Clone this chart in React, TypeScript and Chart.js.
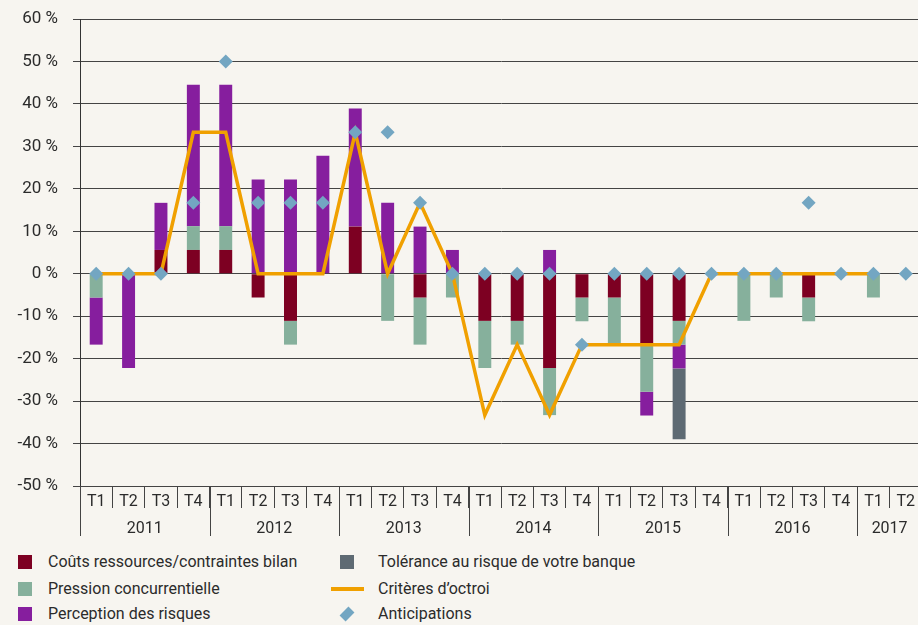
import React, { useEffect, useRef } from "react";
import { Chart, registerables } from "chart.js";

Chart.register(...registerables);

const quarters = [
  "T1", "T2", "T3", "T4",
  "T1", "T2", "T3", "T4",
  "T1", "T2", "T3", "T4",
  "T1", "T2", "T3", "T4",
  "T1", "T2", "T3", "T4",
  "T1", "T2", "T3", "T4",
  "T1", "T2",
];
const years = ["2011", "2012", "2013", "2014", "2015", "2016", "2017"];
const quartersPerYear = [4, 4, 4, 4, 4, 4, 2];

const couts = [
  0, 0, 5.6, 5.6,
  5.6, -5.6, -11.1, 0,
  11.1, 0, -5.6, 0,
  -11.1, -11.1, -22.2, -5.6,
  -5.6, -16.7, -11.1, 0,
  0, 0, -5.6, 0,
  0, 0,
];
const pression = [
  -5.6, 0, 0, 5.6,
  5.6, 0, -5.6, 0,
  0, -11.1, -11.1, -5.6,
  -11.1, -5.6, -11.1, -5.6,
  -11.1, -11.1, -5.6, 0,
  -11.1, -5.6, -5.6, 0,
  -5.6, 0,
];
const perception = [
  -11.1, -22.2, 11.1, 33.3,
  33.3, 22.2, 22.2, 27.8,
  27.8, 16.7, 11.1, 5.6,
  0, 0, 5.6, 0,
  0, -5.6, -5.6, 0,
  0, 0, 0, 0,
  0, 0,
];
const tolerance = [
  0, 0, 0, 0,
  0, 0, 0, 0,
  0, 0, 0, 0,
  0, 0, 0, 0,
  0, 0, -16.7, 0,
  0, 0, 0, 0,
  0, 0,
];
const criteres = [
  0, 0, 0, 33.3,
  33.3, 0, 0, 0,
  33.3, 0, 16.7, 0,
  -33.3, -16.7, -33.3, -16.7,
  -16.7, -16.7, -16.7, 0,
  0, 0, 0, 0,
  0, null,
];
const anticipations = [
  0, 0, 0, 16.7,
  50, 16.7, 16.7, 16.7,
  33.3, 33.3, 16.7, 0,
  0, 0, 0, -16.7,
  0, 0, 0, 0,
  0, 0, 16.7, 0,
  0, 0,
];

const C_RED = "#7d0022";
const C_GREEN = "#86b09c";
const C_PURPLE = "#861e9e";
const C_GREY = "#5e6a73";
const C_ORANGE = "#f0a000";
const C_DIAMOND = "#73a6c2";
const BG = "#f7f5f0";
const TEXT = "#2b2b2b";
const FONT = "Roboto";

const yearPlugin = {
  id: "yearLabels",
  afterDraw(chart: any) {
    const ctx = chart.ctx;
    const x = chart.scales.x;
    const area = chart.chartArea;
    const catW = x.getPixelForValue(1) - x.getPixelForValue(0);
    ctx.save();
    ctx.strokeStyle = "#444";
    ctx.lineWidth = 1;
    ctx.fillStyle = TEXT;
    ctx.font = `16px ${FONT}`;
    ctx.textAlign = "center";
    ctx.textBaseline = "middle";
    let idx = 0;
    years.forEach((yr, i) => {
      const n = quartersPerYear[i];
      const left = x.getPixelForValue(idx) - catW / 2;
      const right = x.getPixelForValue(idx + n - 1) + catW / 2;
      const lx = Math.round(left) + 0.5;
      ctx.beginPath();
      ctx.moveTo(lx, area.bottom);
      ctx.lineTo(lx, area.bottom + 50);
      ctx.stroke();
      ctx.fillText(yr, (left + right) / 2, area.bottom + 43);
      idx += n;
    });
    ctx.restore();
  },
};

function LegendItem(props: { x: number; tx: number; y: number; label: string; kind: string; color: string }) {
  const { x, tx, y, label, kind, color } = props;
  let marker: any;
  if (kind === "square") {
    marker = <div style={{ position: "absolute", left: x, top: y - 7, width: 14, height: 14, background: color }} />;
  } else if (kind === "line") {
    marker = <div style={{ position: "absolute", left: x - 9, top: y - 2, width: 33, height: 4, background: color }} />;
  } else {
    marker = (
      <div
        style={{
          position: "absolute",
          left: x + 2,
          top: y - 5,
          width: 10,
          height: 10,
          background: color,
          transform: "rotate(45deg) scale(0.85,1.25)",
        }}
      />
    );
  }
  return (
    <>
      {marker}
      <div
        style={{
          position: "absolute",
          left: tx,
          top: y - 10,
          height: 20,
          lineHeight: "20px",
          fontFamily: FONT,
          fontSize: 16,
          color: TEXT,
          whiteSpace: "nowrap",
        }}
      >
        {label}
      </div>
    </>
  );
}

export default function App() {
  const ref = useRef<HTMLCanvasElement>(null);

  useEffect(() => {
    document.body.style.margin = "0";
    document.body.style.background = BG;
    const canvas = ref.current;
    if (!canvas) return;
    const chart = new Chart(canvas, {
      type: "bar",
      data: {
        labels: quarters,
        datasets: [
          {
            type: "line",
            label: "Anticipations",
            data: anticipations,
            showLine: false,
            pointStyle: "rectRot",
            pointRadius: 7,
            pointBackgroundColor: C_DIAMOND,
            pointBorderWidth: 0,
            backgroundColor: C_DIAMOND,
            borderColor: C_DIAMOND,
            order: 0,
            stack: "a",
          } as any,
          {
            type: "line",
            label: "Critères d’octroi",
            data: criteres,
            borderColor: C_ORANGE,
            borderWidth: 3.5,
            pointRadius: 0,
            tension: 0,
            fill: false,
            order: 1,
            stack: "l",
          } as any,
          { label: "Coûts ressources/contraintes bilan", data: couts, backgroundColor: C_RED, order: 2, stack: "b" },
          { label: "Pression concurrentielle", data: pression, backgroundColor: C_GREEN, order: 2, stack: "b" },
          { label: "Perception des risques", data: perception, backgroundColor: C_PURPLE, order: 2, stack: "b" },
          { label: "Tolérance au risque de votre banque", data: tolerance, backgroundColor: C_GREY, order: 2, stack: "b" },
        ],
      },
      options: {
        responsive: false,
        animation: false,
        datasets: { bar: { barPercentage: 0.4, categoryPercentage: 1 } } as any,
        layout: { padding: { top: 19, left: 0, right: 0, bottom: 0 } },
        plugins: { legend: { display: false }, tooltip: { enabled: false } },
        scales: {
          x: {
            stacked: true,
            offset: true,
            grid: { display: true, offset: true, drawOnChartArea: false, drawTicks: true, tickLength: 22, color: "#444", lineWidth: 1 },
            border: { display: false },
            ticks: { font: { family: FONT, size: 16 }, color: TEXT, padding: -16, maxRotation: 0, autoSkip: false },
            afterFit: (s: any) => {
              s.height = 60;
              s.paddingLeft = 0;
              s.paddingRight = 0;
            },
          },
          y: {
            stacked: true,
            min: -50,
            max: 60,
            ticks: { stepSize: 10, font: { family: FONT, size: 17 }, color: TEXT, padding: 15, callback: (v: any) => `${v} %` },
            grid: { color: "#444", lineWidth: 1, tickLength: 7 },
            border: { display: true, color: "#333" },
            afterFit: (s: any) => {
              s.width = 80;
              s.paddingTop = 0;
              s.paddingBottom = 0;
            },
          },
        },
      } as any,
      plugins: [yearPlugin],
    });
    return () => chart.destroy();
  }, []);

  return (
    <div style={{ position: "fixed", left: 0, top: 0, width: 918, height: 625, background: BG, overflow: "hidden" }}>
      <canvas ref={ref} width={929} height={546} style={{ display: "block", width: 929, height: 546 }} />
      <LegendItem x={18} tx={48} y={562} label="Coûts ressources/contraintes bilan" kind="square" color={C_RED} />
      <LegendItem x={18} tx={48} y={589} label="Pression concurrentielle" kind="square" color={C_GREEN} />
      <LegendItem x={18} tx={48} y={614} label="Perception des risques" kind="square" color={C_PURPLE} />
      <LegendItem x={340} tx={378} y={562} label="Tolérance au risque de votre banque" kind="square" color={C_GREY} />
      <LegendItem x={340} tx={378} y={589} label="Critères d’octroi" kind="line" color={C_ORANGE} />
      <LegendItem x={340} tx={378} y={614} label="Anticipations" kind="diamond" color={C_DIAMOND} />
    </div>
  );
}
